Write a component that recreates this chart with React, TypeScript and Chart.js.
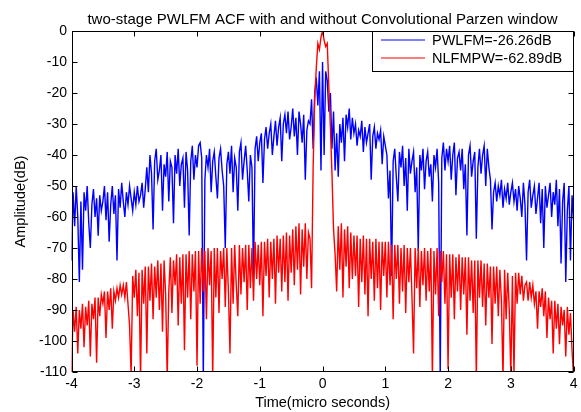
import React, { useEffect, useRef } from "react";
import { Chart, registerables } from "chart.js";

Chart.register(...registerables);

const TITLE = "two-stage PWLFM ACF with and without Convolutional Parzen window";
const X_TITLE = "Time(micro seconds)";
const Y_TITLE = "Amplitude(dB)";
const SERIES_LABELS = ["PWLFM=-26.26dB", "NLFMPW=-62.89dB"];
const SERIES_COLORS = ["#0000ff", "#ff0000"];
const X_TICKS = [-4, -3, -2, -1, 0, 1, 2, 3, 4];
const Y_TICKS = [0, -10, -20, -30, -40, -50, -60, -70, -80, -90, -100, -110];

// time axis: -4 .. 4 microseconds, sample spacing 0.025
const TIME_START = -4;
const TIME_STEP = 0.025;

// PWLFM (blue) autocorrelation, dB
const PWLFM_DB = [
  -74, -52, -63, -50, -60, -81, -55, -77, -52, -58, -50, -62, -70, -56, -51, -60, -54, -66, -53, -58,
  -55, -50, -61, -52, -68, -56, -50, -59, -53, -74, -51, -57, -49, -55, -60, -52, -56, -50, -54, -58,
  -52, -56, -50, -55, -53, -49, -57, -51, -44, -52, -40, -46, -64, -42, -38, -48, -45, -40, -58, -43,
  -47, -39, -55, -42, -44, -62, -40, -46, -38, -50, -43, -41, -57, -39, -45, -66, -42, -37, -48, -40,
  -44, -37, -36, -41, -112, -48, -40, -44, -38, -52, -42, -39, -47, -54, -41, -38, -45, -50, -70, -43,
  -39, -46, -37, -52, -41, -44, -58, -39, -36, -48, -42, -37, -45, -55, -40, -44, -79, -38, -34, -42,
  -36, -33, -49, -35, -31, -38, -33, -30, -40, -34, -29, -37, -31, -28, -42, -30, -27, -33, -26, -35,
  -31, -25, -34, -28, -40, -26, -30, -36, -27, -48, -32, -29, -30, -22, -38, -20, -15, -24, -13, -45,
  -10,
  -40, -13, -16, -26, -20, -38, -26, -45, -33, -47, -30, -36, -28, -42, -27, -31, -25, -35, -28, -33,
  -30, -37, -32, -34, -29, -39, -31, -36, -33, -30, -48, -34, -31, -38, -33, -35, -32, -43, -34, -37,
  -40, -54, -45, -79, -42, -38, -47, -55, -39, -44, -37, -50, -41, -58, -38, -46, -42, -39, -52, -44,
  -71, -40, -45, -38, -51, -42, -39, -47, -43, -55, -40, -44, -38, -49, -112, -41, -36, -45, -38, -42,
  -37, -48, -40, -36, -53, -41, -39, -45, -38, -51, -43, -66, -40, -37, -47, -42, -39, -67, -44, -38,
  -46, -40, -37, -50, -38, -44, -48, -64, -52, -49, -55, -50, -53, -48, -57, -51, -54, -49, -56, -52,
  -49, -55, -51, -58, -50, -54, -60, -49, -56, -74, -52, -48, -57, -53, -50, -59, -54, -49, -62, -51,
  -70, -50, -57, -53, -49, -60, -52, -56, -48, -63, -51, -75, -55, -49, -81, -58, -50, -74, -53, -61,
];

// NLFM with Parzen window (red) autocorrelation, dB
const NLFMPW_DB = [
  -112, -90, -97, -89, -104, -90, -96, -88, -102, -89, -95, -87, -105, -88, -93, -86, -107, -86, -92, -85,
  -88, -84, -99, -84, -90, -83, -96, -84, -87, -83, -86, -82, -85, -82, -86, -81, -88, -95, -111, -79,
  -86, -77, -92, -78, -112, -77, -88, -76, -104, -76, -87, -75, -93, -76, -86, -74, -90, -75, -97, -74,
  -85, -112, -84, -73, -91, -74, -82, -72, -95, -73, -88, -72, -103, -72, -86, -71, -93, -72, -84, -71,
  -108, -71, -88, -70, -84, -71, -93, -70, -82, -71, -112, -70, -86, -70, -91, -71, -80, -70, -89, -70,
  -84, -104, -70, -88, -69, -82, -92, -69, -85, -70, -81, -69, -90, -69, -83, -70, -87, -68, -80, -69,
  -82, -68, -92, -68, -79, -67, -86, -68, -80, -67, -88, -66, -78, -67, -84, -66, -81, -65, -87, -66,
  -78, -64, -82, -63, -77, -62, -85, -64, -76, -62, -80, -65, -67, -83, -44, -22, -12, -4, -6, -2,
  0,
  -3, -5, -4, -18, -31, -46, -64, -72, -84, -63, -77, -62, -86, -64, -76, -63, -83, -65, -80, -66,
  -79, -66, -89, -67, -81, -66, -85, -67, -92, -67, -80, -68, -87, -67, -83, -68, -90, -68, -79, -68,
  -86, -68, -82, -69, -93, -69, -80, -69, -88, -70, -84, -69, -91, -70, -81, -70, -86, -104, -70, -83,
  -70, -89, -71, -82, -70, -87, -71, -84, -70, -112, -71, -85, -70, -92, -71, -81, -71, -88, -72, -109,
  -72, -86, -72, -93, -73, -84, -72, -90, -73, -85, -73, -98, -73, -87, -74, -91, -74, -112, -74, -86,
  -74, -89, -75, -95, -75, -86, -76, -101, -76, -88, -76, -92, -77, -87, -112, -77, -93, -78, -90, -111,
  -79, -111, -78, -88, -78, -85, -79, -87, -82, -81, -87, -81, -86, -82, -88, -84, -96, -84, -89, -83,
  -92, -84, -99, -86, -93, -87, -104, -87, -96, -88, -101, -89, -95, -90, -105, -89, -98, -91, -103, -112,
];

const FONT = '"Liberation Sans", Arial, sans-serif';

const matlabPlugin = {
  id: "matlabDecor",
  afterDatasetsDraw(chart: any) {
    const { ctx, chartArea: a, scales } = chart;
    ctx.save();
    ctx.strokeStyle = "#000";
    ctx.lineWidth = 1;
    const L = Math.round(a.left) + 0.5;
    const R = Math.round(a.right) - 0.5;
    const T = Math.round(a.top) + 0.5;
    const B = Math.round(a.bottom) - 0.5;
    ctx.strokeRect(L, T, R - L, B - T);
    const tl = 5;
    ctx.beginPath();
    scales.x.ticks.forEach((t: any) => {
      const px = Math.round(scales.x.getPixelForValue(t.value)) + 0.5;
      ctx.moveTo(px, B);
      ctx.lineTo(px, B - tl);
      ctx.moveTo(px, T);
      ctx.lineTo(px, T + tl);
    });
    scales.y.ticks.forEach((t: any) => {
      const py = Math.round(scales.y.getPixelForValue(t.value)) + 0.5;
      ctx.moveTo(L, py);
      ctx.lineTo(L + tl, py);
      ctx.moveTo(R, py);
      ctx.lineTo(R - tl, py);
    });
    ctx.stroke();

    // title
    ctx.fillStyle = "#000";
    ctx.font = `15px ${FONT}`;
    ctx.textAlign = "center";
    ctx.textBaseline = "alphabetic";
    ctx.fillText(TITLE, (a.left + a.right) / 2, 24);

    // legend box
    const lx = 372.5, ly = 31.5, lw = 201, lh = 40;
    ctx.fillStyle = "#fff";
    ctx.fillRect(lx, ly, lw, lh);
    ctx.strokeRect(lx, ly, lw, lh);
    const rows = [40, 58];
    SERIES_LABELS.forEach((label, i) => {
      ctx.strokeStyle = SERIES_COLORS[i];
      ctx.lineWidth = 1.2;
      ctx.beginPath();
      ctx.moveTo(381, rows[i]);
      ctx.lineTo(425, rows[i]);
      ctx.stroke();
      ctx.fillStyle = "#000";
      ctx.font = `14.5px ${FONT}`;
      ctx.textAlign = "left";
      ctx.textBaseline = "alphabetic";
      ctx.fillText(label, 432, rows[i] + 5);
    });
    ctx.restore();
  },
};

export default function App() {
  const ref = useRef<HTMLCanvasElement | null>(null);
  useEffect(() => {
    document.body.style.margin = "0";
    const times = PWLFM_DB.map((_, i) => TIME_START + i * TIME_STEP);
    const blue = times.map((t, i) => ({ x: t, y: PWLFM_DB[i] }));
    const red = times.map((t, i) => ({ x: t, y: NLFMPW_DB[i] }));
    const chart = new Chart(ref.current as HTMLCanvasElement, {
      type: "line",
      data: {
        datasets: [
          {
            label: SERIES_LABELS[0],
            data: blue,
            borderColor: SERIES_COLORS[0],
            borderWidth: 1.4,
            pointRadius: 0,
            tension: 0,
            order: 1,
            clip: 0,
          },
          {
            label: SERIES_LABELS[1],
            data: red,
            borderColor: SERIES_COLORS[1],
            borderWidth: 1.4,
            pointRadius: 0,
            tension: 0,
            order: 0,
            clip: 0,
          },
        ],
      },
      options: {
        animation: false,
        responsive: false,
        maintainAspectRatio: false,
        events: [],
        layout: { padding: { left: 0, right: 6, top: 31, bottom: 0 } },
        plugins: { legend: { display: false }, tooltip: { enabled: false }, title: { display: false } },
        scales: {
          x: {
            type: "linear",
            min: -4,
            max: 4,
            grid: { display: false, drawTicks: false },
            border: { display: false },
            afterBuildTicks: (s: any) => {
              s.ticks = X_TICKS.map((v) => ({ value: v }));
            },
            afterFit: (s: any) => {
              s.height = 40;
            },
            ticks: { color: "#000", font: { family: FONT, size: 14 }, padding: 3.5, maxRotation: 0 },
            title: {
              display: true,
              text: X_TITLE,
              color: "#000",
              font: { family: FONT, size: 14.5 },
              padding: { top: 0, bottom: 0 },
            },
          },
          y: {
            type: "linear",
            min: -110,
            max: 0,
            grid: { display: false, drawTicks: false },
            border: { display: false },
            afterBuildTicks: (s: any) => {
              s.ticks = Y_TICKS.map((v) => ({ value: v }));
            },
            afterFit: (s: any) => {
              s.width = 71.5;
            },
            ticks: { color: "#000", font: { family: FONT, size: 14 }, padding: 4.5 },
            title: {
              display: true,
              text: Y_TITLE,
              color: "#000",
              font: { family: FONT, size: 14.5 },
              padding: { top: 12, bottom: 0 },
            },
          },
        },
      },
      plugins: [matlabPlugin],
    } as any);
    return () => chart.destroy();
  }, []);
  return (
    <div style={{ width: 581, height: 412 }}>
      <canvas ref={ref} width={581} height={412} style={{ display: "block" }} />
    </div>
  );
}
